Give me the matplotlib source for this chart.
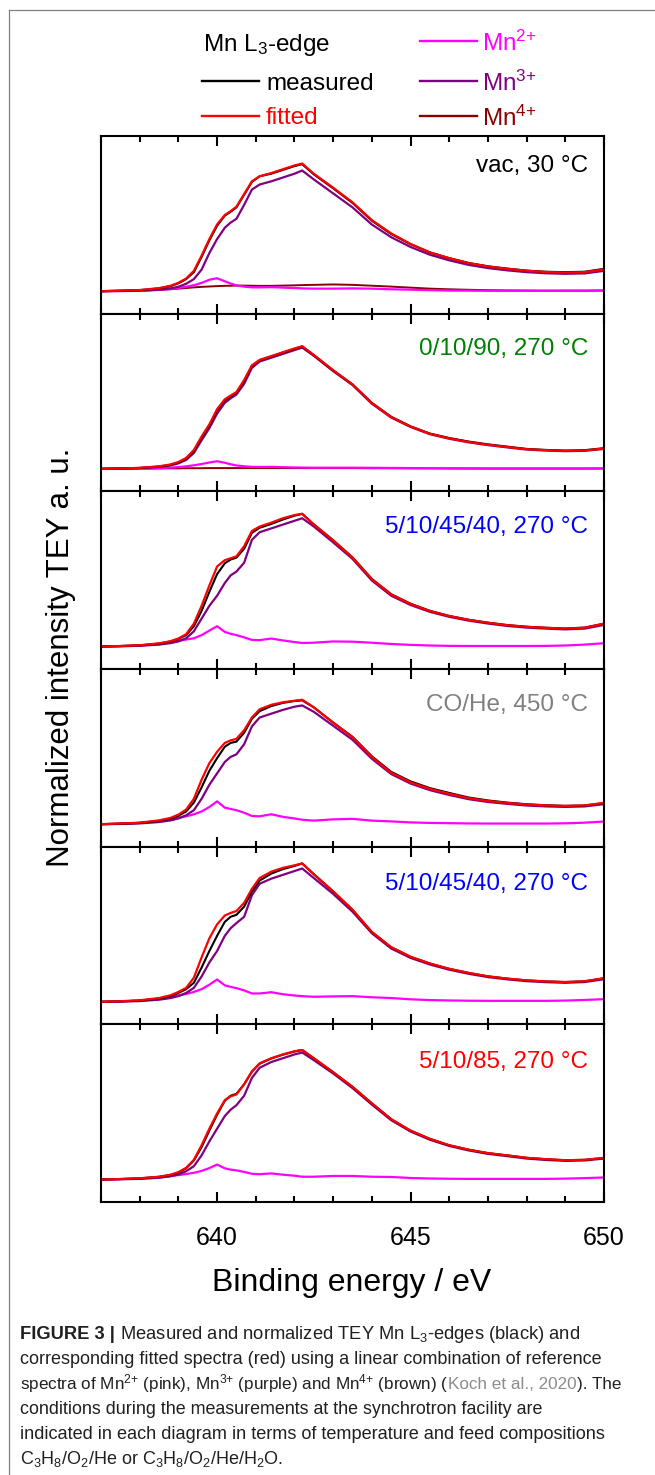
import matplotlib
matplotlib.use("Agg")
import matplotlib.pyplot as plt
from matplotlib.lines import Line2D
from matplotlib.ticker import MultipleLocator

plt.rcParams['font.family'] = ['Liberation Sans', 'DejaVu Sans']
plt.rcParams['mathtext.default'] = 'regular'

# energy grid (eV)
energy = [637.0, 637.5, 638.0, 638.5, 638.8, 639.0, 639.2, 639.4, 639.6, 639.8,
          640.0, 640.2, 640.35, 640.5, 640.7, 640.9, 641.1, 641.4, 641.7, 642.0,
          642.2, 642.5, 643.0, 643.5, 644.0, 644.5, 645.0, 645.5, 646.0, 646.5,
          647.0, 647.5, 648.0, 648.5, 649.0, 649.5, 650.0]

conditions = ['vac, 30 °C', '0/10/90, 270 °C', '5/10/45/40, 270 °C',
              'CO/He, 450 °C', '5/10/45/40, 270 °C', '5/10/85, 270 °C']
cond_colors = ['#000000', '#008000', '#0000FF', '#808080', '#0000FF', '#FF0000']

# panel 1 - vac, 30 C
meas1 = [0.0, 0.004, 0.008, 0.022, 0.040, 0.062, 0.095, 0.150, 0.270, 0.400,
         0.515, 0.595, 0.625, 0.660, 0.760, 0.860, 0.905, 0.925, 0.955, 0.985,
         1.000, 0.920, 0.810, 0.695, 0.555, 0.450, 0.370, 0.305, 0.260, 0.222,
         0.196, 0.178, 0.162, 0.153, 0.150, 0.153, 0.176]
fit1 = [0.0, 0.004, 0.009, 0.024, 0.043, 0.066, 0.100, 0.160, 0.280, 0.410,
        0.525, 0.600, 0.630, 0.665, 0.765, 0.865, 0.905, 0.930, 0.960, 0.990,
        1.005, 0.925, 0.815, 0.700, 0.560, 0.455, 0.372, 0.306, 0.260, 0.222,
        0.195, 0.176, 0.161, 0.151, 0.147, 0.150, 0.172]
mn3_1 = [0.0, 0.002, 0.005, 0.012, 0.022, 0.035, 0.058, 0.095, 0.170, 0.300,
         0.410, 0.500, 0.540, 0.570, 0.680, 0.800, 0.840, 0.865, 0.895, 0.925,
         0.950, 0.880, 0.770, 0.660, 0.525, 0.425, 0.348, 0.287, 0.243, 0.207,
         0.182, 0.164, 0.150, 0.141, 0.137, 0.140, 0.160]
mn2_1 = [0.0, 0.001, 0.003, 0.010, 0.018, 0.025, 0.035, 0.047, 0.065, 0.090,
         0.102, 0.078, 0.060, 0.046, 0.036, 0.030, 0.030, 0.032, 0.028, 0.025,
         0.022, 0.020, 0.020, 0.022, 0.020, 0.015, 0.012, 0.008, 0.005, 0.004,
         0.003, 0.003, 0.003, 0.003, 0.004, 0.004, 0.006]
mn4_1 = [0.0, 0.001, 0.004, 0.010, 0.015, 0.020, 0.025, 0.030, 0.034, 0.037,
         0.040, 0.042, 0.043, 0.044, 0.044, 0.043, 0.042, 0.042, 0.044, 0.046,
         0.048, 0.050, 0.053, 0.050, 0.043, 0.036, 0.028, 0.020, 0.015, 0.011,
         0.008, 0.006, 0.005, 0.004, 0.004, 0.004, 0.005]

# panel 2 - 0/10/90, 270 C
meas2 = [0.0, 0.003, 0.007, 0.018, 0.032, 0.050, 0.080, 0.140, 0.245, 0.340,
         0.460, 0.540, 0.570, 0.600, 0.690, 0.810, 0.855, 0.885, 0.915, 0.945,
         0.963, 0.895, 0.775, 0.665, 0.520, 0.410, 0.335, 0.278, 0.243, 0.215,
         0.193, 0.175, 0.157, 0.149, 0.144, 0.147, 0.163]
fit2 = [0.0, 0.003, 0.008, 0.020, 0.035, 0.054, 0.086, 0.148, 0.255, 0.350,
        0.470, 0.548, 0.577, 0.605, 0.700, 0.815, 0.858, 0.888, 0.918, 0.948,
        0.966, 0.897, 0.777, 0.665, 0.518, 0.408, 0.333, 0.276, 0.240, 0.212,
        0.190, 0.172, 0.155, 0.147, 0.142, 0.145, 0.160]
mn3_2 = [0.0, 0.002, 0.006, 0.015, 0.027, 0.043, 0.070, 0.125, 0.225, 0.320,
         0.435, 0.520, 0.555, 0.585, 0.670, 0.795, 0.845, 0.875, 0.905, 0.935,
         0.955, 0.890, 0.770, 0.660, 0.513, 0.404, 0.330, 0.273, 0.237, 0.209,
         0.187, 0.169, 0.152, 0.144, 0.139, 0.142, 0.157]
mn2_2 = [0.0, 0.001, 0.002, 0.005, 0.010, 0.014, 0.020, 0.028, 0.038, 0.050,
         0.060, 0.048, 0.036, 0.027, 0.020, 0.016, 0.015, 0.016, 0.013, 0.011,
         0.010, 0.009, 0.009, 0.009, 0.008, 0.007, 0.006, 0.005, 0.004, 0.003,
         0.003, 0.003, 0.003, 0.003, 0.003, 0.003, 0.004]
mn4_2 = [0.0, 0.001, 0.002, 0.003, 0.004, 0.004, 0.005, 0.005, 0.005, 0.006,
         0.006, 0.006, 0.006, 0.006, 0.006, 0.006, 0.006, 0.006, 0.006, 0.006,
         0.006, 0.006, 0.006, 0.006, 0.005, 0.005, 0.004, 0.004, 0.003, 0.003,
         0.002, 0.002, 0.002, 0.002, 0.002, 0.002, 0.002]

# panel 3 - 5/10/45/40, 270 C
meas3 = [0.0, 0.004, 0.009, 0.023, 0.040, 0.060, 0.090, 0.160, 0.280, 0.430,
         0.570, 0.655, 0.685, 0.700, 0.770, 0.895, 0.935, 0.965, 1.000, 1.030,
         1.045, 0.962, 0.837, 0.702, 0.532, 0.412, 0.337, 0.281, 0.241, 0.211,
         0.188, 0.169, 0.156, 0.148, 0.142, 0.149, 0.180]
fit3 = [0.0, 0.004, 0.010, 0.025, 0.042, 0.063, 0.097, 0.180, 0.320, 0.480,
        0.630, 0.680, 0.695, 0.710, 0.790, 0.910, 0.945, 0.975, 1.010, 1.035,
        1.045, 0.960, 0.835, 0.700, 0.530, 0.410, 0.335, 0.280, 0.240, 0.210,
        0.187, 0.168, 0.155, 0.147, 0.141, 0.148, 0.180]
mn3_3 = [0.0, 0.002, 0.006, 0.015, 0.027, 0.040, 0.065, 0.120, 0.220, 0.320,
         0.400, 0.500, 0.560, 0.590, 0.660, 0.840, 0.900, 0.930, 0.960, 0.990,
         1.010, 0.945, 0.820, 0.690, 0.520, 0.400, 0.327, 0.273, 0.234, 0.204,
         0.181, 0.162, 0.149, 0.141, 0.135, 0.141, 0.170]
mn2_3 = [0.0, 0.003, 0.008, 0.020, 0.035, 0.045, 0.055, 0.065, 0.090, 0.125,
         0.160, 0.115, 0.100, 0.090, 0.072, 0.052, 0.050, 0.063, 0.048, 0.035,
         0.028, 0.030, 0.040, 0.038, 0.030, 0.020, 0.013, 0.008, 0.005, 0.004,
         0.004, 0.004, 0.004, 0.005, 0.008, 0.015, 0.026]

# panel 4 - CO/He, 450 C
meas4 = [0.0, 0.004, 0.010, 0.026, 0.044, 0.066, 0.100, 0.170, 0.290, 0.420,
         0.520, 0.610, 0.640, 0.650, 0.720, 0.830, 0.890, 0.930, 0.955, 0.970,
         0.975, 0.920, 0.800, 0.688, 0.535, 0.412, 0.337, 0.284, 0.246, 0.210,
         0.187, 0.170, 0.157, 0.149, 0.144, 0.147, 0.166]
fit4 = [0.0, 0.005, 0.012, 0.030, 0.050, 0.075, 0.115, 0.200, 0.350, 0.480,
        0.570, 0.640, 0.660, 0.672, 0.740, 0.840, 0.905, 0.940, 0.960, 0.972,
        0.980, 0.920, 0.800, 0.685, 0.530, 0.405, 0.330, 0.278, 0.240, 0.205,
        0.183, 0.167, 0.155, 0.148, 0.144, 0.148, 0.168]
mn3_4 = [0.0, 0.002, 0.006, 0.017, 0.030, 0.045, 0.070, 0.110, 0.200, 0.310,
         0.400, 0.490, 0.530, 0.550, 0.630, 0.770, 0.840, 0.870, 0.900, 0.925,
         0.935, 0.885, 0.775, 0.665, 0.515, 0.395, 0.320, 0.268, 0.230, 0.197,
         0.175, 0.160, 0.147, 0.140, 0.136, 0.140, 0.158]
mn2_4 = [0.0, 0.004, 0.010, 0.025, 0.040, 0.050, 0.062, 0.078, 0.100, 0.135,
         0.180, 0.130, 0.120, 0.110, 0.090, 0.065, 0.062, 0.078, 0.058, 0.045,
         0.035, 0.028, 0.038, 0.042, 0.028, 0.022, 0.014, 0.010, 0.008, 0.006,
         0.005, 0.005, 0.005, 0.005, 0.007, 0.012, 0.021]

# panel 5 - 5/10/45/40, 270 C
meas5 = [0.0, 0.004, 0.010, 0.026, 0.046, 0.070, 0.100, 0.150, 0.270, 0.400,
         0.520, 0.630, 0.670, 0.685, 0.750, 0.870, 0.955, 1.010, 1.045, 1.070,
         1.090, 1.005, 0.870, 0.725, 0.550, 0.430, 0.355, 0.302, 0.260, 0.228,
         0.201, 0.183, 0.169, 0.161, 0.156, 0.162, 0.186]
fit5 = [0.0, 0.005, 0.012, 0.030, 0.052, 0.078, 0.110, 0.190, 0.350, 0.500,
        0.610, 0.680, 0.700, 0.715, 0.780, 0.890, 0.975, 1.025, 1.055, 1.075,
        1.090, 1.005, 0.870, 0.725, 0.550, 0.430, 0.355, 0.302, 0.260, 0.228,
        0.201, 0.183, 0.169, 0.161, 0.156, 0.162, 0.186]
mn3_5 = [0.0, 0.002, 0.006, 0.017, 0.030, 0.045, 0.070, 0.110, 0.200, 0.310,
         0.400, 0.520, 0.580, 0.620, 0.670, 0.840, 0.930, 0.970, 1.000, 1.030,
         1.050, 0.975, 0.850, 0.710, 0.540, 0.420, 0.346, 0.294, 0.253, 0.221,
         0.195, 0.177, 0.163, 0.155, 0.150, 0.156, 0.178]
mn2_5 = [0.0, 0.004, 0.010, 0.025, 0.040, 0.050, 0.062, 0.078, 0.100, 0.135,
         0.176, 0.130, 0.118, 0.108, 0.090, 0.066, 0.066, 0.076, 0.060, 0.050,
         0.045, 0.040, 0.043, 0.045, 0.036, 0.030, 0.020, 0.014, 0.011, 0.009,
         0.008, 0.008, 0.008, 0.008, 0.010, 0.015, 0.021]

# panel 6 - 5/10/85, 270 C
meas6 = [0.0, 0.004, 0.009, 0.021, 0.036, 0.055, 0.088, 0.150, 0.255, 0.385,
         0.510, 0.620, 0.660, 0.675, 0.750, 0.850, 0.912, 0.953, 0.983, 1.008,
         1.020, 0.955, 0.845, 0.730, 0.600, 0.475, 0.385, 0.320, 0.270, 0.235,
         0.208, 0.190, 0.171, 0.160, 0.152, 0.155, 0.170]
fit6 = [0.0, 0.004, 0.010, 0.022, 0.038, 0.058, 0.092, 0.155, 0.270, 0.400,
        0.520, 0.625, 0.655, 0.670, 0.750, 0.850, 0.915, 0.955, 0.985, 1.010,
        1.020, 0.955, 0.845, 0.730, 0.600, 0.475, 0.385, 0.320, 0.270, 0.235,
        0.208, 0.190, 0.171, 0.160, 0.152, 0.155, 0.170]
mn3_6 = [0.0, 0.002, 0.005, 0.014, 0.026, 0.040, 0.065, 0.105, 0.190, 0.300,
         0.400, 0.500, 0.550, 0.585, 0.660, 0.800, 0.880, 0.925, 0.955, 0.985,
         1.000, 0.940, 0.835, 0.720, 0.590, 0.467, 0.378, 0.313, 0.264, 0.229,
         0.202, 0.184, 0.165, 0.154, 0.147, 0.150, 0.165]
mn2_6 = [0.0, 0.003, 0.007, 0.016, 0.027, 0.035, 0.043, 0.053, 0.068, 0.090,
         0.118, 0.088, 0.078, 0.072, 0.060, 0.045, 0.042, 0.048, 0.038, 0.030,
         0.022, 0.022, 0.028, 0.028, 0.022, 0.020, 0.012, 0.008, 0.006, 0.005,
         0.005, 0.005, 0.005, 0.005, 0.007, 0.011, 0.016]

measured = [meas1, meas2, meas3, meas4, meas5, meas6]
fitted = [fit1, fit2, fit3, fit4, fit5, fit6]
mn2 = [mn2_1, mn2_2, mn2_3, mn2_4, mn2_5, mn2_6]
mn3 = [mn3_1, mn3_2, mn3_3, mn3_4, mn3_5, mn3_6]
mn4 = [mn4_1, mn4_2, None, None, None, None]

C_MEAS = '#000000'
C_FIT = '#FF0000'
C_MN2 = '#FF00FF'
C_MN3 = '#800080'
C_MN4 = '#8B0000'

W, H = 655, 1475
fig = plt.figure(figsize=(W / 100, H / 100), dpi=100)


def fx(px):
    return px / W


def fy(py):
    return 1 - py / H


axes = fig.subplots(6, 1, sharex=True,
                    gridspec_kw=dict(left=fx(101), right=fx(604),
                                     top=fy(136), bottom=fy(1202), hspace=0))

label_dy = [0.83, 0.80, 0.80, 0.80, 0.79, 0.79]

for i, ax in enumerate(axes):
    if mn4[i] is not None:
        ax.plot(energy, mn4[i], color=C_MN4, lw=1.4)
    ax.plot(energy, mn2[i], color=C_MN2, lw=1.6)
    ax.plot(energy, mn3[i], color=C_MN3, lw=1.6)
    ax.plot(energy, measured[i], color=C_MEAS, lw=1.5)
    ax.plot(energy, fitted[i], color=C_FIT, lw=1.6)
    ax.set_xlim(637, 650)
    ax.set_ylim(-0.177, 1.222)
    ax.set_yticks([])
    ax.xaxis.set_major_locator(MultipleLocator(5))
    ax.xaxis.set_minor_locator(MultipleLocator(1))
    ax.tick_params(axis='x', which='both', direction='in', top=True, bottom=True,
                   width=1.5, labelsize=18, pad=17)
    ax.tick_params(axis='x', which='major', length=7.5)
    ax.tick_params(axis='x', which='minor', length=4.5)
    for sp in ax.spines.values():
        sp.set_linewidth(1.5)
    ax.text(0.968, label_dy[i], conditions[i], transform=ax.transAxes,
            ha='right', va='center', fontsize=17.5, color=cond_colors[i])

axes[-1].set_xticks([640, 645, 650])

fig.text(fx(61), fy(657), 'Normalized intensity TEY a. u.', rotation=90,
         ha='center', va='center', fontsize=22.5)
fig.text(fx(352), fy(1283), 'Binding energy / eV', ha='center', va='center',
         fontsize=23)

# legend block at the top
fig.text(fx(203), fy(42), 'Mn L$_3$-edge', ha='left', va='center_baseline',
         fontsize=17.5)
legend_items = [('measured', C_MEAS, 202, 81), ('fitted', C_FIT, 202, 116),
                ('Mn$^{2{+}}$', C_MN2, 420, 41), ('Mn$^{3{+}}$', C_MN3, 420, 81),
                ('Mn$^{4{+}}$', C_MN4, 420, 116)]
for name, col, x0, y0 in legend_items:
    fig.add_artist(Line2D([fx(x0), fx(x0 + 57)], [fy(y0), fy(y0)], color=col,
                          lw=1.7, transform=fig.transFigure))
    fig.text(fx(x0 + 64 if x0 < 400 else x0 + 62), fy(y0), name, ha='left',
             va='center_baseline', fontsize=17.5, color=col)

# gray frame
fig.add_artist(Line2D([fx(9), 1], [fy(10), fy(10)], color='#808080', lw=0.9,
                      transform=fig.transFigure))
fig.add_artist(Line2D([fx(9), fx(9)], [fy(10), 0], color='#808080', lw=0.9,
                      transform=fig.transFigure))

# caption
renderer = fig.canvas.get_renderer()
CAP = '#231F20'


def put_pieces(x, y, pieces, size):
    for s, kw in pieces:
        t = fig.text(x, y, s, ha='left', va='baseline', fontsize=size, **kw)
        bb = t.get_window_extent(renderer)
        x = fig.transFigure.inverted().transform((bb.x1, bb.y0))[0]


cap_lines = [
    [('FIGURE 3 |', dict(color=CAP, fontweight='bold')),
     (' Measured and normalized TEY Mn L$_3$-edges (black) and', dict(color=CAP))],
    [('corresponding fitted spectra (red) using a linear combination of reference',
      dict(color=CAP))],
    [('spectra of Mn$^{2{+}}$ (pink), Mn$^{3{+}}$ (purple) and Mn$^{4{+}}$ (brown) (',
      dict(color=CAP)),
     ('Koch et al., 2020', dict(color='#8C8C8C')),
     ('). The', dict(color=CAP))],
    [('conditions during the measurements at the synchrotron facility are',
      dict(color=CAP))],
    [('indicated in each diagram in terms of temperature and feed compositions',
      dict(color=CAP))],
    [('C$_3$H$_8$/O$_2$/He or C$_3$H$_8$/O$_2$/He/H$_2$O.', dict(color=CAP))],
]
cap_sizes = [13.2, 13.0, 12.3, 12.9, 13.1, 13.0]
for k, line in enumerate(cap_lines):
    put_pieces(fx(20), fy(1339 + 25 * k), line, cap_sizes[k])

fig.savefig('out.png', dpi=100)
